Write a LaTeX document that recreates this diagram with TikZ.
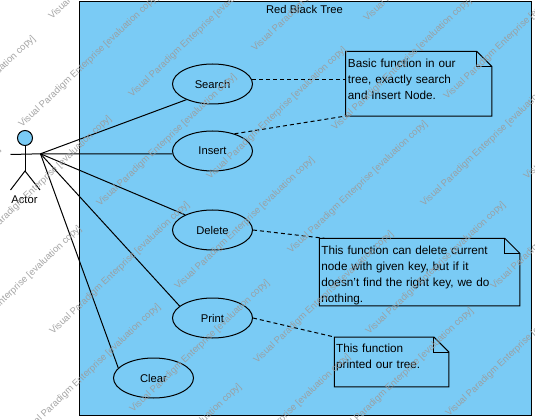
\documentclass[tikz,border=0pt]{standalone}
\usepackage{fontspec}
\setmainfont{Liberation Sans}
\usetikzlibrary{shapes.geometric}
\definecolor{skyfill}{HTML}{7ACBF5}
\definecolor{markgrey}{HTML}{9C9C9C}
\newcommand{\lbl}{\fontsize{8.4pt}{12pt}\selectfont}
\newcommand{\ntx}{\fontsize{8.8pt}{12pt}\selectfont}
\tikzset{
  usecase/.style={ellipse,draw=black,line width=0.75pt,fill=skyfill,minimum width=60pt,minimum height=30pt,inner sep=0pt,font=\lbl},
  notebox/.style={rectangle,inner sep=0pt,font=\ntx,align=left,anchor=north west},
  notepath/.style={draw=black,line width=0.75pt},
  assoc/.style={draw=black,line width=0.75pt},
  anchorline/.style={draw=black,line width=0.75pt,dash pattern=on 3pt off 2.25pt},
  evalmark/.style={anchor=base west,rotate=43.5,text=markgrey,font=\fontsize{7.1pt}{9pt}\selectfont,inner sep=0pt,text opacity=0.9}
}
\newcommand{\evalat}[2]{\node[evalmark] at (#1,#2) {Visual Paradigm Enterprise [evaluation copy]};}
\begin{document}
\begin{tikzpicture}[x=0.75pt,y=-0.75pt]
\clip (0,0) rectangle (535,420);
\fill[white] (0,0) rectangle (535,420);
% system boundary
\node[rectangle,draw=black,line width=0.75pt,fill=skyfill,minimum width=339pt,minimum height=310.1pt,inner sep=0pt,anchor=north west] (sys) at (78.7,1.5) {};
\node[font=\lbl,anchor=base] (systitle) at (304.5,14) {Red Black Tree};
% use cases
\node[usecase] (search) at (212.5,84) {Search};
\node[usecase] (insert) at (212.5,151) {Insert};
\node[usecase] (delete) at (212.5,230) {Delete};
\node[usecase] (print) at (212.5,318) {Print};
\node[usecase] (clear) at (153.5,378) {Clear};
% actor
\node[circle,draw=black,line width=0.75pt,fill=skyfill,minimum size=11.25pt,inner sep=0pt] (head) at (25,138) {};
\coordinate (neck) at (25,154.5);
\coordinate (hip) at (25,171);
\coordinate (handl) at (10.5,154.5);
\coordinate (handr) at (40.5,153.8);
\coordinate (footl) at (10.5,190);
\coordinate (footr) at (40,190);
\draw[assoc] (head) -- (hip);
\draw[assoc] (handl) -- (handr);
\draw[assoc] (footl) -- (hip) -- (footr);
\node[font=\lbl,anchor=base] (actor) at (24.5,203.5) {Actor};
% associations
\draw[assoc] (handr) -- (search.211);
\draw[assoc] (handr) -- (insert.184);
\draw[assoc] (handr) -- (delete.151);
\draw[assoc] (handr) -- (print.160);
\draw[assoc] (handr) -- (clear.164);
% notes
\node[notebox,minimum width=109.2pt,minimum height=48pt,text width=107pt] (n1) at (345.7,51.5) {\hspace*{0.4pt}\parbox[t][48pt][t]{105pt}{\vspace{5.4pt}Basic function in our\\tree, exactly search\\and Insert Node.}};
\node[notebox,minimum width=150pt,minimum height=50.2pt,text width=148pt] (n2) at (319.3,238.3) {\hspace*{0.4pt}\parbox[t][50.2pt][t]{146pt}{\vspace{5.4pt}This function can delete current\\node with given key, but if it\\doesn't find the right key, we do\\nothing.}};
\node[notebox,minimum width=85.5pt,minimum height=37pt,text width=84pt] (n3) at (334.3,337) {\hspace*{0.4pt}\parbox[t][37pt][t]{82pt}{\vspace{5.4pt}This function\\printed our tree.}};
\foreach \n in {n1,n2,n3}{
  \draw[notepath] (\n.north west) -- ([xshift=-11.25pt]\n.north east) -- ([yshift=-11.25pt]\n.north east) -- (\n.south east) -- (\n.south west) -- cycle;
  \draw[notepath] ([xshift=-11.25pt]\n.north east) -- ([xshift=-11.25pt,yshift=-11.25pt]\n.north east) -- ([yshift=-11.25pt]\n.north east);
}
% anchors
\draw[anchorline] (search.6) -- (search.6 -| n1.west);
\draw[anchorline] (insert.38) -- (n1.south west);
\draw[anchorline] (delete.east) -- ([xshift=4pt]n2.north west);
\draw[anchorline] (print.east) -- (n3.north west);
% watermark
\foreach \px/\py in {22/128,132/98,100/207,52/20,255/52,367/22,210/180,335/131,447/100,291/254,178/290,424/207,369/335,133/413,53/335,-55/359,-25/249,-101/169,-136/279,24/437,105/517,337/441,257/364,214/487,449/417,494/290,527/180}{
  \evalat{\px}{\py}
}
\end{tikzpicture}
\end{document}
